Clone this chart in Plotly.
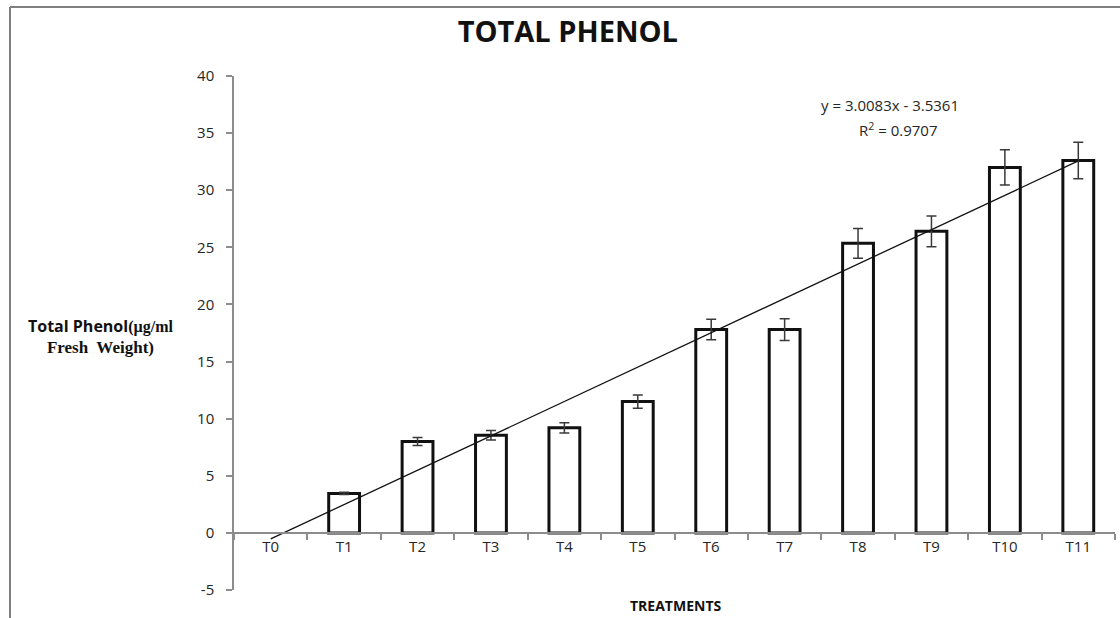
import plotly.graph_objects as go

# Treatments and measured total phenol (µg/ml fresh weight)
treatments = ["T0", "T1", "T2", "T3", "T4", "T5", "T6", "T7", "T8", "T9", "T10", "T11"]
phenol = [0.0, 3.45, 8.0, 8.55, 9.2, 11.5, 17.8, 17.8, 25.35, 26.4, 32.0, 32.6]
phenol_err = [0.0, 0.1, 0.35, 0.42, 0.45, 0.58, 0.9, 0.95, 1.3, 1.35, 1.55, 1.6]

# Y-axis ticks (plain hyphen for the negative value)
y_ticks = [-5, 0, 5, 10, 15, 20, 25, 30, 35, 40]
y_tick_labels = ["-5", "0", "5", "10", "15", "20", "25", "30", "35", "40"]

# Linear trend fitted over treatment index 1..12
slope = 3.0083
intercept = -3.5361
r_squared = 0.9707

trend_y = [slope * (i + 1) + intercept for i in range(len(treatments))]

edge_colors = ["#6f8fbf"] + ["#111111"] * (len(treatments) - 1)
edge_widths = [1] + [3] * (len(treatments) - 1)

fig = go.Figure()

fig.add_trace(go.Bar(
    x=treatments,
    y=phenol,
    width=0.42,
    marker=dict(color="white", line=dict(color=edge_colors, width=edge_widths)),
    error_y=dict(type="data", array=phenol_err, visible=True,
                 color="#3a3a3a", thickness=1.5, width=5),
    showlegend=False,
    hoverinfo="x+y",
))

fig.add_trace(go.Scatter(
    x=treatments,
    y=trend_y,
    mode="lines",
    line=dict(color="#111111", width=1.3),
    showlegend=False,
    hoverinfo="skip",
))

tick_font = dict(family="Open Sans, DejaVu Sans, sans-serif", size=15, color="#262626")

fig.update_layout(
    width=1120,
    height=618,
    margin=dict(l=234, r=5, t=76, b=28),
    paper_bgcolor="white",
    plot_bgcolor="white",
    title=dict(
        text="<b>TOTAL PHENOL</b>",
        x=0.507, xanchor="center", xref="container",
        y=0.948, yanchor="middle", yref="container",
        font=dict(family="Open Sans, DejaVu Sans, sans-serif", size=29, color="#111111"),
    ),
    xaxis=dict(
        type="category",
        range=[-0.5, 11.5],
        anchor="free",
        position=5 / 45,
        showline=True, linecolor="#8c8c8c", linewidth=1.5,
        ticks="outside", tickson="boundaries", ticklen=6, tickcolor="#8c8c8c", tickwidth=1.5,
        tickfont=tick_font,
        showgrid=False, zeroline=False,
    ),
    yaxis=dict(
        range=[-5, 40],
        tickmode="array", tickvals=y_ticks, ticktext=y_tick_labels,
        showline=True, linecolor="#8c8c8c", linewidth=1.5,
        ticks="outside", ticklen=6, tickcolor="#8c8c8c", tickwidth=1.5,
        ticklabelstandoff=9,
        tickfont=tick_font,
        showgrid=False, zeroline=False,
    ),
    bargap=0.58,
)

# Trend-line equation and coefficient of determination
fig.add_annotation(
    text=f"y = {slope:.4f}x - {abs(intercept):.4f}",
    xref="paper", yref="paper", x=0.745, y=(590 - 105) / 514,
    xanchor="center", yanchor="middle", showarrow=False, align="center",
    font=dict(family="Open Sans, DejaVu Sans, sans-serif", size=15, color="#262626"),
)
fig.add_annotation(
    text=f"R<sup>2</sup> = {r_squared:.4f}",
    xref="paper", yref="paper", x=0.754, y=(590 - 129) / 514,
    xanchor="center", yanchor="middle", showarrow=False, align="center",
    font=dict(family="Open Sans, DejaVu Sans, sans-serif", size=15, color="#262626"),
)

# Y-axis caption, set horizontally beside the axis
fig.add_annotation(
    text="<b>Total Phenol</b><span style='font-family:Liberation Serif'><b>(µg/ml</b></span>"
         "<br><span style='font-family:Liberation Serif;font-size:17px'><b>Fresh  Weight)</b></span>",
    xref="paper", yref="paper", x=-0.151, y=(590 - 336) / 514,
    xanchor="center", yanchor="middle", showarrow=False, align="center",
    font=dict(family="Open Sans, DejaVu Sans, sans-serif", size=16, color="#111111"),
)

# X-axis caption
fig.add_annotation(
    text="<b>TREATMENTS</b>",
    xref="paper", yref="paper", x=0.501, y=-0.031,
    xanchor="center", yanchor="middle", showarrow=False,
    font=dict(family="Open Sans, DejaVu Sans, sans-serif", size=14, color="#111111"),
)

# Chart-area frame (left and top edges)
frame = dict(color="#808080", width=2)
fig.add_shape(type="line", xref="paper", yref="paper",
              x0=(10 - 234) / 881, x1=(10 - 234) / 881, y0=(590 - 7) / 514, y1=(590 - 640) / 514,
              line=frame)
fig.add_shape(type="line", xref="paper", yref="paper",
              x0=(10 - 234) / 881, x1=(1125 - 234) / 881, y0=(590 - 7) / 514, y1=(590 - 7) / 514,
              line=frame)

fig.write_html("out.html")
